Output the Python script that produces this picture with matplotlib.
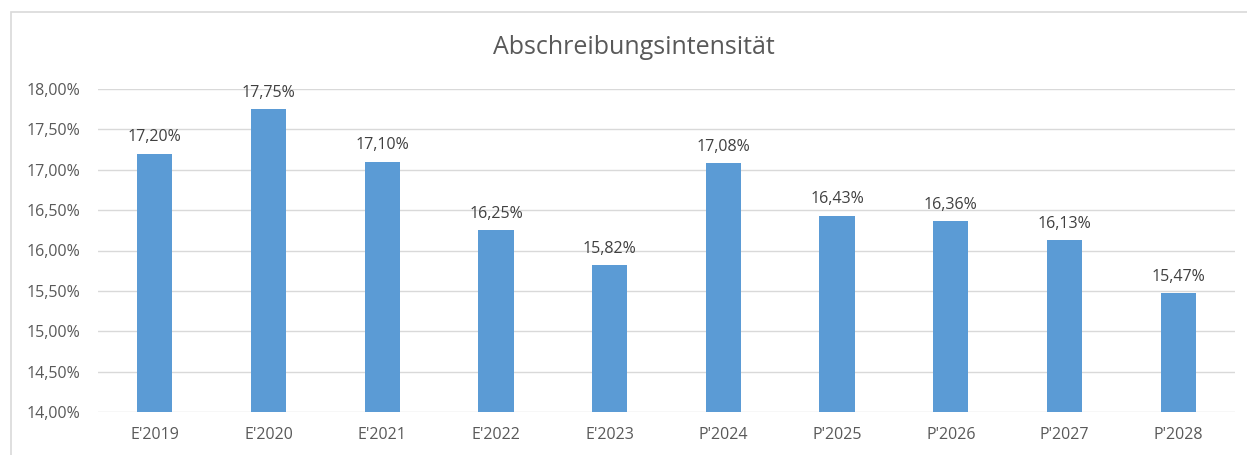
import matplotlib
matplotlib.use("Agg")
import matplotlib.pyplot as plt
from matplotlib.patches import Rectangle

categories = ["E'2019", "E'2020", "E'2021", "E'2022", "E'2023",
              "P'2024", "P'2025", "P'2026", "P'2027", "P'2028"]
values = [17.20, 17.75, 17.10, 16.25, 15.82, 17.08, 16.43, 16.36, 16.13, 15.47]
yticks = [14.0, 14.5, 15.0, 15.5, 16.0, 16.5, 17.0, 17.5, 18.0]

plt.rcParams['font.family'] = ['Open Sans', 'DejaVu Sans']
text_col = '#595959'
bar_col = '#5B9BD5'

fig = plt.figure(figsize=(12.47, 4.55), dpi=100)
# chart frame
fig.patches.append(Rectangle((11/1247, -0.1), 1.2, 1.1 - 12/455, transform=fig.transFigure,
                             facecolor='none', edgecolor='#d9d9d9', linewidth=1.2))

ax = fig.add_axes([98/1247, 1 - 412/455, 1137/1247, (412 - 89)/455])
x = range(len(categories))
ax.bar(x, values, width=0.31, color=bar_col, zorder=3)
ax.set_ylim(14, 18)
ax.set_xlim(-0.5, len(categories) - 0.5)
ax.set_yticks(yticks)
ax.set_yticklabels([f"{v:.2f}%".replace('.', ',') for v in yticks])
ax.set_xticks(list(x))
ax.set_xticklabels(categories)
ax.tick_params(length=0, colors=text_col, labelsize=11.5)
ax.tick_params(axis='x', pad=11)
ax.tick_params(axis='y', pad=13)
ax.grid(axis='y', color='#d9d9d9', linewidth=1, zorder=0)
for s in ax.spines.values():
    s.set_visible(False)

for xi, v in zip(x, values):
    ax.annotate(f"{v:.2f}%".replace('.', ','), (xi, v), xytext=(0, 6),
                textcoords='offset points', ha='center', va='bottom',
                color='#404040', fontsize=11.5)

fig.text(634/1247, 1 - 47/455, "Abschreibungsintensität", ha='center', va='center',
         fontsize=18, color=text_col)

fig.savefig("out.png", dpi=100)
